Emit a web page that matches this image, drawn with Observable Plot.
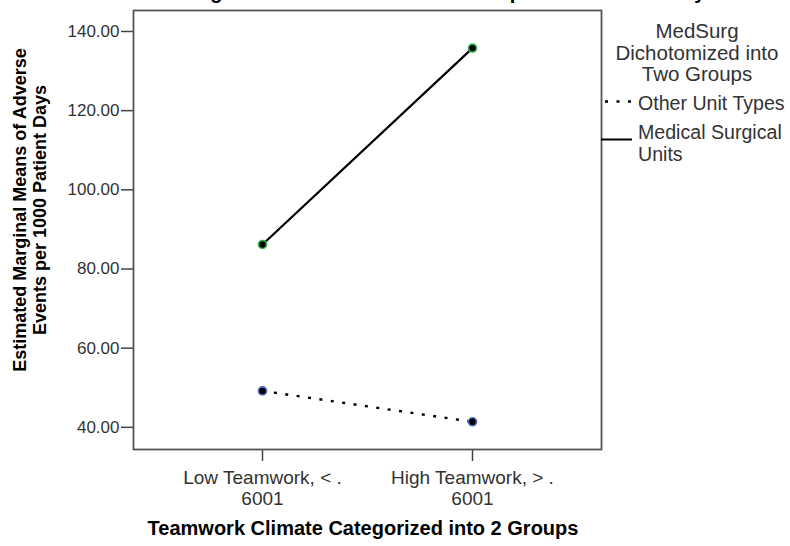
<!DOCTYPE html>
<html>
<head>
<meta charset="utf-8">
<script src="https://cdn.jsdelivr.net/npm/d3@7"></script>
<script src="https://cdn.jsdelivr.net/npm/@observablehq/plot@0.6"></script>
<style>
  body { margin: 0; background: #fff; }
  #chart { width: 790px; height: 546px; overflow: hidden; }
  #chart svg { display: block; }
</style>
</head>
<body>
<div id="chart"></div>
<script>
// Teamwork climate groups (x categories) and unit types (series)
const teamworkGroups = ["Low Teamwork, < .\n6001", "High Teamwork, > .\n6001"];
const unitTypes = ["Other Unit Types", "Medical Surgical Units"];

// Estimated marginal means of adverse events per 1000 patient days
const otherUnitMeans = [49.2, 41.4];
const medSurgMeans = [86.2, 135.8];

// y-axis tick values
const yTicks = [40, 60, 80, 100, 120, 140];

const rows = [
  ...teamworkGroups.map((g, i) => ({group: g, unit: unitTypes[0], mean: otherUnitMeans[i]})),
  ...teamworkGroups.map((g, i) => ({group: g, unit: unitTypes[1], mean: medSurgMeans[i]}))
];

const pointStroke = {"Other Unit Types": "#4a68c8", "Medical Surgical Units": "#2fb84a"};

const font = "'Liberation Sans', Arial, sans-serif";

const chart = Plot.plot({
  width: 790,
  height: 546,
  marginLeft: 133,
  marginRight: 189,
  marginTop: 10,
  marginBottom: 97,
  style: {fontFamily: font, fontSize: "17px", color: "#333", background: "#fff", overflow: "hidden"},
  x: {type: "point", domain: teamworkGroups, padding: 0.614, label: null},
  y: {domain: [34.4, 145.3], label: null},
  marks: [
    Plot.axisY({ticks: yTicks, tickFormat: d => d.toFixed(2), tickSize: 12, tickPadding: 2, stroke: "#444", strokeWidth: 1.5, label: null}),
    Plot.axisX({tickSize: 12, tickPadding: 8, stroke: "#444", strokeWidth: 1.5, fontSize: 19, lineHeight: 1.1, label: null}),
    Plot.frame({stroke: "#555", strokeWidth: 1.8}),
    Plot.line(rows, {filter: d => d.unit === unitTypes[1], x: "group", y: "mean", stroke: "#000", strokeWidth: 2.2}),
    Plot.line(rows, {filter: d => d.unit === unitTypes[0], x: "group", y: "mean", stroke: "#000", strokeWidth: 2.4, strokeDasharray: "3,8.5", strokeLinecap: "butt"}),
    Plot.dot(rows, {x: "group", y: "mean", r: 4, fill: "#000", stroke: d => pointStroke[d.unit], strokeWidth: 1.6})
  ]
});

document.getElementById("chart").append(chart);

const svg = d3.select(chart);

// Chart heading (sits above the top edge)
svg.append("text")
  .attr("x", 395).attr("y", -1)
  .attr("text-anchor", "middle")
  .style("font", `bold 20px ${font}`)
  .attr("fill", "#000")
  .text("Estimated Marginal Means of Adverse Events per 1000 Patient Days");

// y-axis title, two lines
const yTitle = svg.append("text")
  .attr("transform", "translate(26,210) rotate(-90)")
  .attr("text-anchor", "middle")
  .style("font", `bold 18px ${font}`)
  .attr("fill", "#000");
yTitle.append("tspan").attr("x", 0).attr("y", 0).text("Estimated Marginal Means of Adverse");
yTitle.append("tspan").attr("x", 0).attr("y", 20).text("Events per 1000 Patient Days");

// x-axis title
svg.append("text")
  .attr("x", 363).attr("y", 535)
  .attr("text-anchor", "middle")
  .style("font", `bold 20px ${font}`)
  .attr("fill", "#000")
  .text("Teamwork Climate Categorized into 2 Groups");

// Legend
const legend = svg.append("g").style("font", `19.6px ${font}`).attr("fill", "#333");
[["MedSurg", 38], ["Dichotomized into", 60], ["Two Groups", 81]].forEach(([t, y]) => {
  legend.append("text").attr("x", 697).attr("y", y).attr("text-anchor", "middle").style("font-size", "20.5px").text(t);
});
legend.append("line").attr("x1", 601).attr("x2", 631).attr("y1", 101.5).attr("y2", 101.5)
  .attr("stroke", "#000").attr("stroke-width", 2.4).attr("stroke-dasharray", "3,8.5").attr("stroke-dashoffset", -4);
legend.append("text").attr("x", 638).attr("y", 110).attr("text-anchor", "start").text(unitTypes[0]);
legend.append("line").attr("x1", 601).attr("x2", 632).attr("y1", 139.5).attr("y2", 139.5)
  .attr("stroke", "#000").attr("stroke-width", 2);
legend.append("text").attr("x", 638).attr("y", 139).attr("text-anchor", "start").text("Medical Surgical");
legend.append("text").attr("x", 638).attr("y", 161).attr("text-anchor", "start").text("Units");
</script>
</body>
</html>
